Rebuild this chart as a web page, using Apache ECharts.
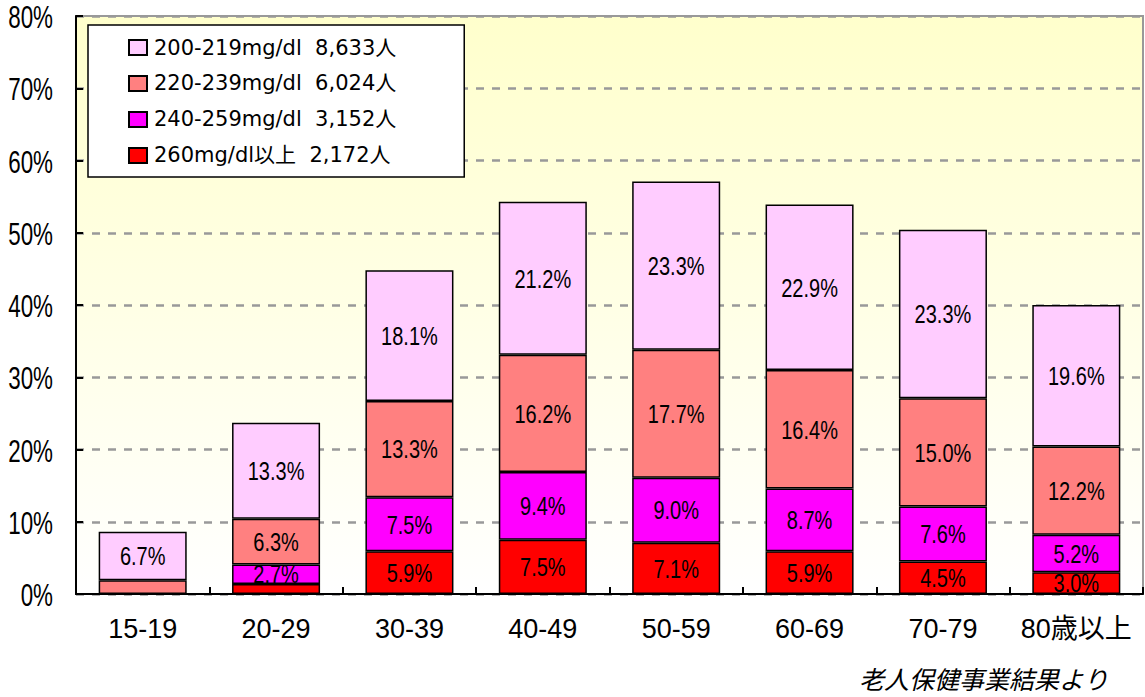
<!DOCTYPE html>
<html>
<head>
<meta charset="utf-8">
<script src="https://cdn.jsdelivr.net/npm/echarts@6/dist/echarts.min.js"></script>
<style>
html,body{margin:0;padding:0;background:#fff;}
#chart{width:1145px;height:697px;}
</style>
</head>
<body>
<div id="chart"></div>
<script>
const categories = ['15-19','20-29','30-39','40-49','50-59','60-69','70-79','80歳以上'];
const seriesNames = ['260mg/dl以上  2,172人','240-259mg/dl  3,152人','220-239mg/dl  6,024人','200-219mg/dl  8,633人'];
const colors = ['#ff0000','#ff00ff','#ff8080','#ffccff'];
const v260 = [null, 1.4, 5.9, 7.5, 7.1, 5.9, 4.5, 3.0];
const v240 = [null, 2.7, 7.5, 9.4, 9.0, 8.7, 7.6, 5.2];
const v220 = [1.9, 6.3, 13.3, 16.2, 17.7, 16.4, 15.0, 12.2];
const v200 = [6.7, 13.3, 18.1, 21.2, 23.3, 22.9, 23.3, 19.6];
const hiddenLabels = [[1], [], [0], []]; // segments without a printed value
const yTickValues = [0, 10, 20, 30, 40, 50, 60, 70, 80];
const yTickLabels = ['0%', '10%', '20%', '30%', '40%', '50%', '60%', '70%', '80%'];
const note = '老人保健事業結果より';

const allValues = [v260, v240, v220, v200];
const chart = echarts.init(document.getElementById('chart'), null, {renderer: 'svg'});
const sansFont = '"Liberation Sans",Arial,"Noto Sans CJK JP",sans-serif';

const series = allValues.map((vals, si) => ({
  name: seriesNames[si],
  type: 'bar',
  stack: 'total',
  barCategoryGap: '34%',
  itemStyle: {color: colors[si], borderColor: '#000', borderWidth: 1.5},
  emphasis: {disabled: true},
  data: vals
}));

// value labels, centred in each stacked segment (positions from the y scale)
const labelData = [];
categories.forEach((c, i) => {
  let base = 0;
  allValues.forEach((vals, si) => {
    const v = vals[i];
    if (v == null) return;
    if (!hiddenLabels[si].includes(i)) labelData.push([i, base + v / 2, v.toFixed(1) + '%']);
    base += v;
  });
});

series.push({
  type: 'custom',
  name: 'labels',
  silent: true,
  z: 10,
  data: labelData,
  renderItem: (params, api) => {
    const p = api.coord([api.value(0), api.value(1)]);
    return {
      type: 'text', x: p[0], y: p[1] + 1, scaleX: 0.8,
      style: {text: labelData[params.dataIndex][2], fontSize: 25, fontFamily: sansFont,
              fill: '#000', align: 'center', verticalAlign: 'middle'}
    };
  }
});

// y tick labels (condensed), placed by the y scale
series.push({
  type: 'custom',
  name: 'ylabels',
  silent: true,
  clip: false,
  data: yTickValues.map((v, i) => [0, v, i]),
  renderItem: (params, api) => {
    const p = api.coord([0, api.value(1)]);
    const x0 = params.coordSys.x;
    return {
      type: 'text', x: x0 - 23, y: p[1] + 1, scaleX: 0.7,
      style: {text: yTickLabels[api.value(2)], fontSize: 32, fontFamily: sansFont,
              fill: '#000', align: 'right', verticalAlign: 'middle'}
    };
  }
});

chart.setOption({
  animation: false,
  grid: {
    left: 76, right: 2, top: 16, bottom: 103,
    show: true,
    borderColor: '#999',
    borderWidth: 2,
    backgroundColor: new echarts.graphic.LinearGradient(0, 0, 0, 1, [
      {offset: 0, color: '#ffffcc'},
      {offset: 1, color: '#ffffff'}
    ])
  },
  legend: {
    orient: 'vertical',
    left: 88, top: 25,
    data: seriesNames.slice().reverse(),
    backgroundColor: '#fff',
    borderColor: '#000',
    borderWidth: 1.5,
    padding: [12, 68, 11, 40],
    itemGap: 15,
    itemWidth: 18,
    itemHeight: 15,
    icon: 'rect',
    selectedMode: false,
    textStyle: {fontSize: 21, color: '#000', padding: [0, 0, 0, 2], fontFamily: '"DejaVu Sans","Noto Sans CJK JP",sans-serif'}
  },
  xAxis: {
    type: 'category',
    data: categories,
    axisLine: {lineStyle: {color: '#000', width: 2}},
    axisTick: {show: true, inside: true, length: 7, interval: 0, lineStyle: {color: '#000', width: 2}},
    axisLabel: {interval: 0, fontSize: 27, color: '#000', margin: 21, fontFamily: sansFont}
  },
  yAxis: {
    type: 'value',
    min: 0, max: 80, interval: 10,
    axisLine: {show: true, lineStyle: {color: '#000', width: 2}},
    axisTick: {show: true, inside: true, length: 7, lineStyle: {color: '#000', width: 2}},
    axisLabel: {show: false},
    splitLine: {lineStyle: {color: '#999', width: 2.5, type: [8, 8]}}
  },
  graphic: [{
    type: 'text',
    right: 36, top: 665,
    style: {text: note, fontSize: 25, fontStyle: 'italic', fill: '#000', fontFamily: '"Noto Sans CJK JP",sans-serif'}
  }],
  series: series
});
</script>
</body>
</html>
